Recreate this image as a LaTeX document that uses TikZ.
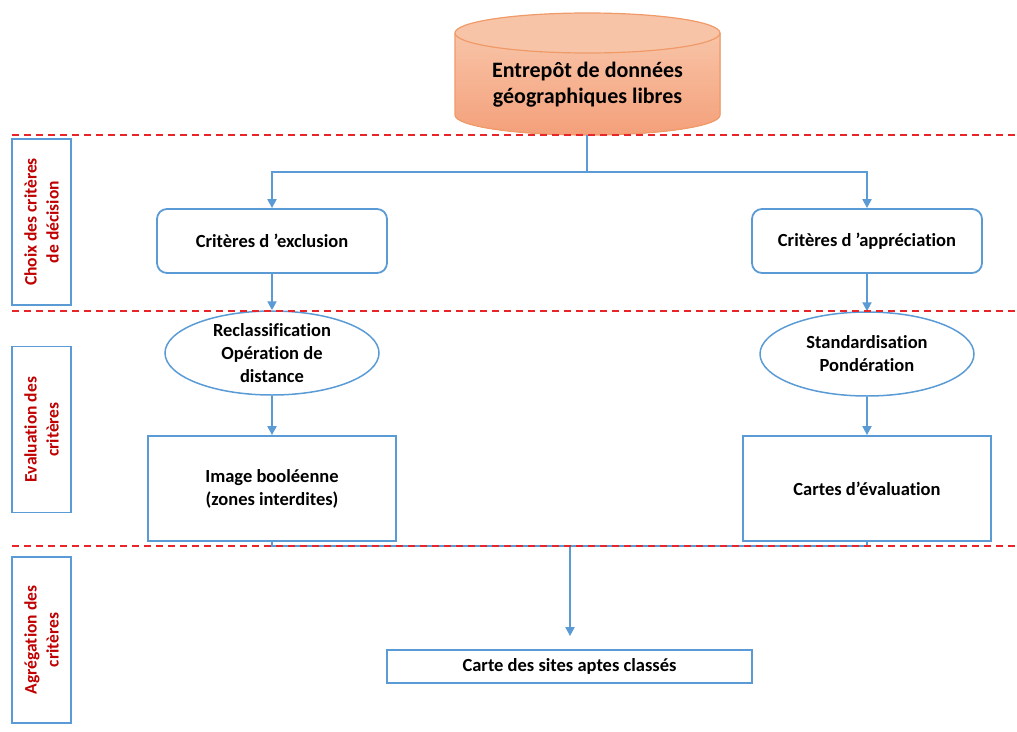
\documentclass[tikz,border=0pt]{standalone}
\usepackage{fontspec}
\setmainfont[Ligatures=NoCommon]{Carlito}
\usetikzlibrary{arrows.meta,shapes.geometric}
\definecolor{lineblue}{HTML}{5B9BD5}
\definecolor{sepred}{HTML}{E8262A}
\definecolor{labred}{HTML}{C00000}
\definecolor{cyltop}{HTML}{F8C4A8}
\definecolor{cylbot}{HTML}{F4A07A}
\definecolor{cyledge}{HTML}{F09A68}
\begin{document}
\begin{tikzpicture}[x=1pt,y=1pt,
  conn/.style={draw=lineblue,line width=2pt,-{Triangle[length=9pt,width=9pt]}},
  plainconn/.style={draw=lineblue,line width=2pt},
  sep/.style={draw=sepred,line width=1.3pt,dash pattern=on 7pt off 5pt},
  txt/.style={font=\bfseries\fontsize{18.5}{23}\selectfont,align=center,text=black},
  rbox/.style={txt,draw=lineblue,line width=1.8pt,rounded corners=10pt,minimum width=230pt,minimum height=64pt,inner sep=0pt},
  ebox/.style={txt,draw=lineblue,line width=1.5pt,ellipse,minimum width=214pt,minimum height=84pt,inner sep=0pt},
  sbox/.style={txt,draw=lineblue,line width=1.8pt,minimum width=248pt,minimum height=105pt,inner sep=0pt},
  lab/.style={draw=lineblue,line width=1.8pt,rotate=90,minimum width=166pt,minimum height=59pt,inner sep=0pt,align=center,text=labred,font=\bfseries\fontsize{17.5}{22}\selectfont}
]
\useasboundingbox (0,0) rectangle (1017,-731);

% cylinder
\fill[top color=cyltop,bottom color=cylbot] (455,-33) -- (455,-115) arc[start angle=180,end angle=360,x radius=132.5,y radius=20] -- (720,-33) -- cycle;
\draw[cyledge,line width=1.2pt] (455,-33) -- (455,-115) arc[start angle=180,end angle=360,x radius=132.5,y radius=20] -- (720,-33);
\draw[cyledge,line width=1.2pt,fill=cyltop] (587.5,-33) ellipse[x radius=132.5,y radius=20];
\node[txt,font=\bfseries\fontsize{22}{26}\selectfont] (db) at (587.5,-85) {Entrepôt de données\\géographiques libres};
\coordinate (dbs) at (587,-135);

% left labels
\node[lab] (lab1) at (41.5,-222) {Choix des critères\\de décision};
\node[lab] (lab2) at (41.5,-429.5) {Evaluation des\\critères};
\node[lab] (lab3) at (41.5,-640) {Agrégation des\\critères};

% main nodes
\node[rbox] (excl) at (272,-241) {Critères d ’exclusion};
\node[rbox] (appr) at (867,-241) {Critères d ’appréciation};
\node[ebox] (recl) at (272,-353) {Reclassification\\Opération de\\distance};
\node[ebox] (stan) at (867,-354) {Standardisation\\Pondération};
\node[sbox] (bool) at (272,-488.5) {Image booléenne\\(zones interdites)};
\node[sbox] (eval) at (867,-488.5) {Cartes d’évaluation};
\node[txt,draw=lineblue,line width=1.8pt,minimum width=365pt,minimum height=33pt,inner sep=0pt] (final) at (569.5,-666.5) {Carte des sites aptes classés};

% connectors
\draw[plainconn] (dbs) -- (587,-172) coordinate (split);
\draw[conn] (split) -| (excl.north);
\draw[conn] (split) -| (appr.north);
\draw[conn] (excl) -- (recl);
\draw[conn] (appr) -- (stan);
\draw[conn] (recl) -- (bool);
\draw[conn] (stan) -- (eval);
\draw[plainconn] (bool.south) -- (272,-546) coordinate (jl) -- (867,-546) coordinate (jr) -- (eval.south);
\coordinate (jm) at (570,-546);
\draw[conn,shorten >=13pt] (jm) -- (final.north -| jm);

% separators
\draw[sep] (12,-135) -- (1017,-135);
\draw[sep] (12,-311) -- (1017,-311);
\draw[sep] (12,-546) -- (1017,-546);
\end{tikzpicture}
\end{document}
